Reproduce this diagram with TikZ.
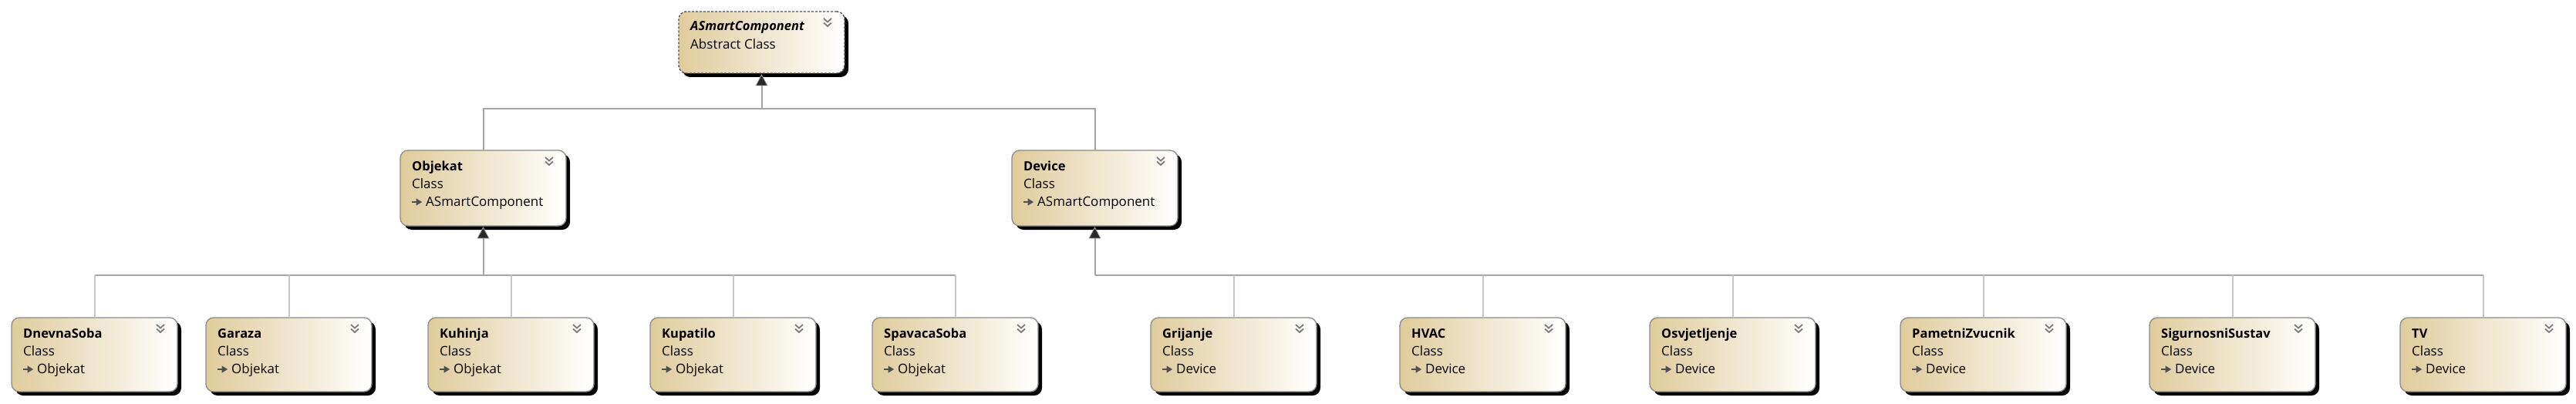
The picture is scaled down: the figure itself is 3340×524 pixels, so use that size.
\documentclass[tikz,border=0pt]{standalone}
\usepackage{fontspec}
\setmainfont{Open Sans}
\usetikzlibrary{shadows,calc}
\definecolor{tanL}{HTML}{DFCC9C}
\definecolor{boxline}{HTML}{8A8A8A}
\definecolor{dashcol}{HTML}{555555}
\definecolor{mainline}{HTML}{A3A3A3}
\definecolor{stubline}{HTML}{C6C6C6}
\definecolor{headfill}{HTML}{2A2A2A}
\definecolor{chevcol}{HTML}{7A7A7A}
\definecolor{iconcol}{HTML}{505050}
\tikzset{
  clsnode/.style={rectangle, rounded corners=10pt, draw=boxline, line width=1.3pt,
    left color=tanL, right color=white, minimum width=215pt, inner sep=0pt, outer sep=0pt,
    general shadow={fill=black, shadow xshift=5pt, shadow yshift=-5pt}},
  abstractnode/.style={clsnode, draw=dashcol, line width=1.4pt, dash pattern=on 3pt off 2pt},
  titletext/.style={anchor=base west, inner sep=0pt, font=\fontsize{16.5pt}{19pt}\selectfont\bfseries},
  subtext/.style={anchor=base west, inner sep=0pt, font=\fontsize{17pt}{19pt}\selectfont},
  chevline/.style={draw=chevcol, line width=1.8pt},
  iconline/.style={draw=iconcol, line width=1.4pt},
  iconhead/.style={fill=iconcol, draw=iconcol, line width=0.6pt},
  linkmain/.style={draw=mainline, line width=2pt},
  linkstub/.style={draw=stubline, line width=2pt},
  inhead/.style={fill=headfill, draw=mainline, line width=0.8pt},
}
\newcommand\chevrons[1]{%
  \draw[chevline] ([xshift=-27pt,yshift=-9pt]#1.north east) -- ++(5,4.5) -- ++(5,-4.5);
  \draw[chevline] ([xshift=-27pt,yshift=-14.5pt]#1.north east) -- ++(5,4.5) -- ++(5,-4.5);
}
\newcommand\clsbox[6]{% name, x, y, height, title, parent
  \node[clsnode, anchor=north west, minimum height=#4pt] (#1) at (#2,#3) {};
  \node[titletext] (#1-t) at ([xshift=15pt,yshift=-26pt]#1.north west) {#5};
  \node[subtext] (#1-k) at ([xshift=15pt,yshift=-49pt]#1.north west) {Class};
  \node[subtext] (#1-p) at ([xshift=33pt,yshift=-72pt]#1.north west) {#6};
  \draw[iconline] ([xshift=15pt,yshift=-67pt]#1.north west) -- ++(7,0);
  \draw[iconhead] ([xshift=21pt,yshift=-67pt]#1.north west) -- ++(0,-4) -- ++(6.5,4) -- ++(-6.5,4) -- cycle;
  \chevrons{#1}
}
\newcommand\inharrow[1]{%
  \draw[inhead] ([yshift=-2pt]#1.south) -- ++(-7.5,14) -- ++(15,0) -- cycle;
}
\begin{document}
\begin{tikzpicture}[x=1pt,y=-1pt]
\useasboundingbox[fill=white] (0,0) rectangle (3340,524);

% abstract root
\node[abstractnode, anchor=north west, minimum height=80pt] (asc) at (880,15) {};
\node[titletext, font=\fontsize{16.5pt}{19pt}\selectfont\bfseries\itshape] (asc-t) at ([xshift=15pt,yshift=-25pt]asc.north west) {ASmartComponent};
\node[subtext] (asc-k) at ([xshift=15pt,yshift=-49pt]asc.north west) {Abstract Class};
\chevrons{asc}

% middle level
\clsbox{obj}{519}{195}{98}{Objekat}{ASmartComponent}
\clsbox{dev}{1312}{195}{98}{Device}{ASmartComponent}

% bottom level
\clsbox{dnevna}{15}{412}{96}{DnevnaSoba}{Objekat}
\clsbox{garaza}{267}{412}{96}{Garaza}{Objekat}
\clsbox{kuhinja}{555}{412}{96}{Kuhinja}{Objekat}
\clsbox{kupatilo}{843}{412}{96}{Kupatilo}{Objekat}
\clsbox{spavaca}{1131}{412}{96}{SpavacaSoba}{Objekat}
\clsbox{grijanje}{1492}{412}{96}{Grijanje}{Device}
\clsbox{hvac}{1815}{412}{96}{HVAC}{Device}
\clsbox{osvj}{2139}{412}{96}{Osvjetljenje}{Device}
\clsbox{pametni}{2464}{412}{96}{PametniZvucnik}{Device}
\clsbox{sigur}{2787}{412}{96}{SigurnosniSustav}{Device}
\clsbox{tv}{3112}{412}{96}{TV}{Device}

% bus coordinates
\coordinate (topbus) at (988,141);
\coordinate (objbus) at (627,357);
\coordinate (devbus) at (1420,357);

% top level connectors
\draw[linkmain] (obj.north) -- (obj.north |- topbus) -- (dev.north |- topbus) -- (dev.north);
\draw[linkmain] (asc.south |- topbus) -- ([yshift=-14pt]asc.south);

% Objekat children
\draw[linkmain] (dnevna.north |- objbus) -- (spavaca.north |- objbus);
\draw[linkmain] (obj.south |- objbus) -- ([yshift=-14pt]obj.south);
\foreach \c in {dnevna,garaza,kuhinja,kupatilo,spavaca}
  \draw[linkstub] (\c.north) -- (\c.north |- objbus);

% Device children
\draw[linkmain] (dev.south |- devbus) -- (tv.north |- devbus);
\draw[linkmain] (dev.south |- devbus) -- ([yshift=-14pt]dev.south);
\foreach \c in {grijanje,hvac,osvj,pametni,sigur,tv}
  \draw[linkstub] (\c.north) -- (\c.north |- devbus);

% arrowheads
\inharrow{asc}
\inharrow{obj}
\inharrow{dev}
\end{tikzpicture}
\end{document}
